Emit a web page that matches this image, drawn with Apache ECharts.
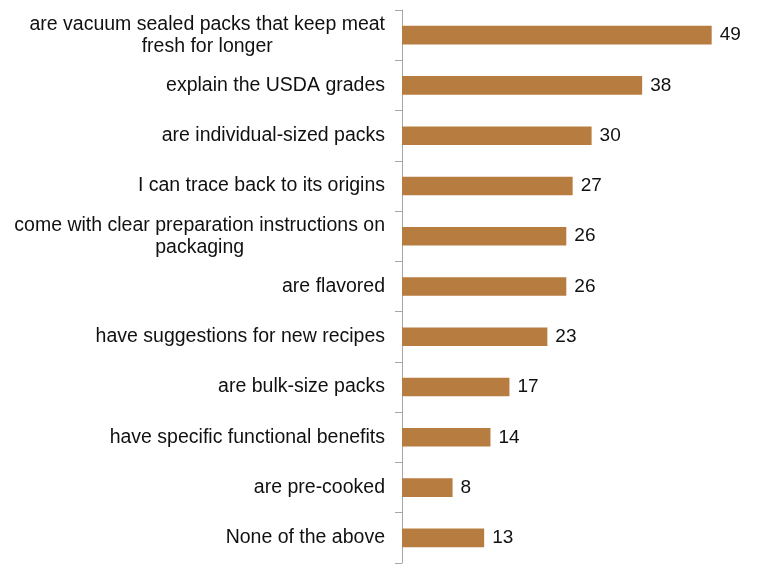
<!DOCTYPE html>
<html>
<head>
<meta charset="utf-8">
<script src="https://cdn.jsdelivr.net/npm/echarts@6/dist/echarts.min.js"></script>
<style>html,body{margin:0;padding:0;background:#fff;}#c{width:758px;height:566px;}</style>
</head>
<body>
<div id="c"></div>
<script>
const categories = [
  "are vacuum sealed packs that keep meat\nfresh for longer",
  "explain the USDA grades",
  "are individual-sized packs",
  "I can trace back to its origins",
  "come with clear preparation instructions on\npackaging",
  "are flavored",
  "have suggestions for new recipes",
  "are bulk-size packs",
  "have specific functional benefits",
  "are pre-cooked",
  "None of the above"
];
const values = [49, 38, 30, 27, 26, 26, 23, 17, 14, 8, 13];

const FONT = 'Liberation Sans, Arial, sans-serif';
const chart = echarts.init(document.getElementById('c'));
chart.setOption({
  animation: false,
  backgroundColor: '#ffffff',
  grid: { left: 402, right: 40, top: 10, bottom: 3, containLabel: false },
  xAxis: { type: 'value', min: 0, max: 50, show: false },
  yAxis: {
    type: 'category',
    inverse: true,
    data: categories,
    axisLine: { lineStyle: { color: '#A6A6A6', width: 1 } },
    axisTick: { show: true, length: 7, lineStyle: { color: '#A6A6A6' } },
    axisLabel: {
      margin: 17,
      align: 'right',
      formatter: function (v) {
        return v.split('\n').map(function (s) { return '{c|' + s + '}'; }).join('\n');
      },
      rich: {
        c: {
          align: 'center',
          color: '#111111',
          fontFamily: FONT,
          fontSize: 19.5,
          lineHeight: 22
        }
      }
    },
    splitLine: { show: false }
  },
  series: [{
    type: 'bar',
    data: values,
    barCategoryGap: '63%',
    itemStyle: { color: '#B77D40' },
    label: {
      show: true,
      position: 'right',
      distance: 8,
      color: '#111111',
      fontFamily: FONT,
      fontSize: 19
    }
  }]
});
</script>
</body>
</html>
